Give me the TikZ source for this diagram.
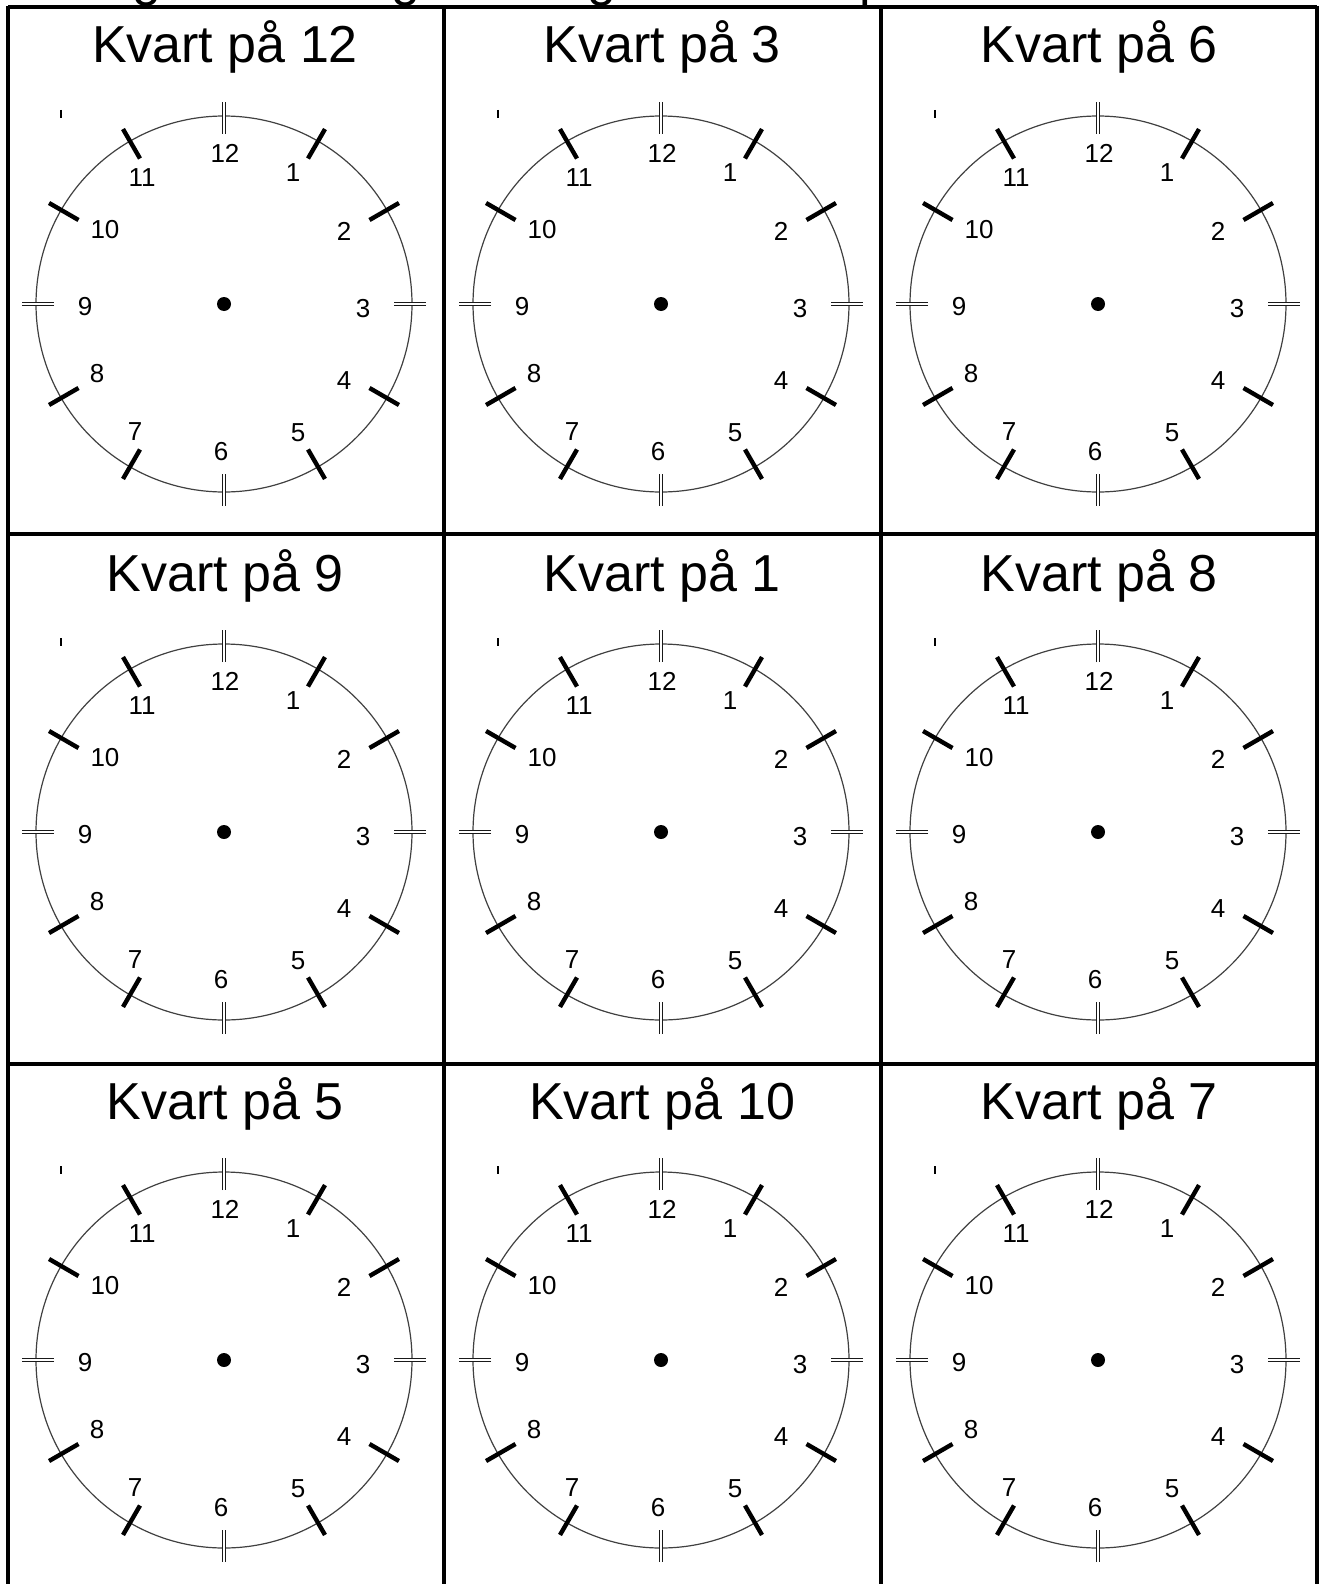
\documentclass[tikz,border=0pt]{standalone}
\usepackage{fontspec}
\setmainfont{Liberation Sans}
\usetikzlibrary{calc}

\tikzset{
    cellline/.style={line width=1.6pt},
    dial/.style={line width=0.6pt, draw=black!75},
    hourtick/.style={line width=2.2pt},
    quartertick/.style={draw=black!90, double=white, double distance=0.6pt, line width=0.7pt},
    hournum/.style={font=\fontsize{13}{14}\selectfont, inner sep=0pt},
    celltitle/.style={font=\fontsize{26}{30}\selectfont, anchor=base, inner sep=0pt},
}

\begin{document}
\begin{tikzpicture}[x=0.5pt, y=-0.5pt]
    % Page in pixels, y running downwards
    \useasboundingbox (0,0) rectangle (1324,1584);
    \clip (0,0) rectangle (1324,1584);

    % Heading line, cut off at the top of the page
    \node (head-g1) at (147,-4) [celltitle] {g};
    \node (head-g2) at (406,-4) [celltitle] {g};
    \node (head-g3) at (602,-4) [celltitle] {g};
    \node (head-p) at (859,-4) [celltitle, anchor=base west] {p};

    % Lines of the table
    \draw[cellline] (8,7) -- (1317,7);
    \draw[cellline] (8,534) -- (1317,534);
    \draw[cellline] (8,1064) -- (1317,1064);
    \foreach \x in {8,444,881,1317}
        \draw[cellline] (\x,6) -- (\x,1590);

    % One clock face in every cell
    \foreach \hr [count=\i from 0] in {12,3,6,9,1,8,5,10,7} {
        \pgfmathtruncatemacro\clockcol{mod(\i,3)}
        \pgfmathtruncatemacro\clockrow{div(\i,3)}
        \coordinate (C\i) at ({224+437*\clockcol},{304+528*\clockrow});

        \node (title-\i) at ($(C\i)+(1,-241)$) [celltitle] {Kvart på \hr};

        \draw[dial] (C\i) circle[radius=188];
        \fill (C\i) circle[radius=7];
        \draw[line width=0.8pt] ($(C\i)+(-163,-194)$) -- ($(C\i)+(-163,-186)$);

        % Hour marks
        \foreach \a in {30,60,120,150,210,240,300,330}
            \draw[hourtick] ($(C\i)+(\a:168)$) -- ($(C\i)+(\a:202)$);
        \foreach \a in {0,90,180,270}
            \draw[quartertick] ($(C\i)+(\a:170)$) -- ($(C\i)+(\a:202)$);

        % Numbers
        \foreach \n/\dx/\dy in {12/1/-151, 1/69/-131, 2/120/-73, 3/139/5,
                4/120/77, 5/74/129, 6/-3/148, 7/-89/128, 8/-127/70,
                9/-139/3, 10/-119/-74, 11/-82/-126}
            \node (num-\i-\n) at ($(C\i)+(\dx,\dy)$) [hournum] {\n};
    }
\end{tikzpicture}
\end{document}
